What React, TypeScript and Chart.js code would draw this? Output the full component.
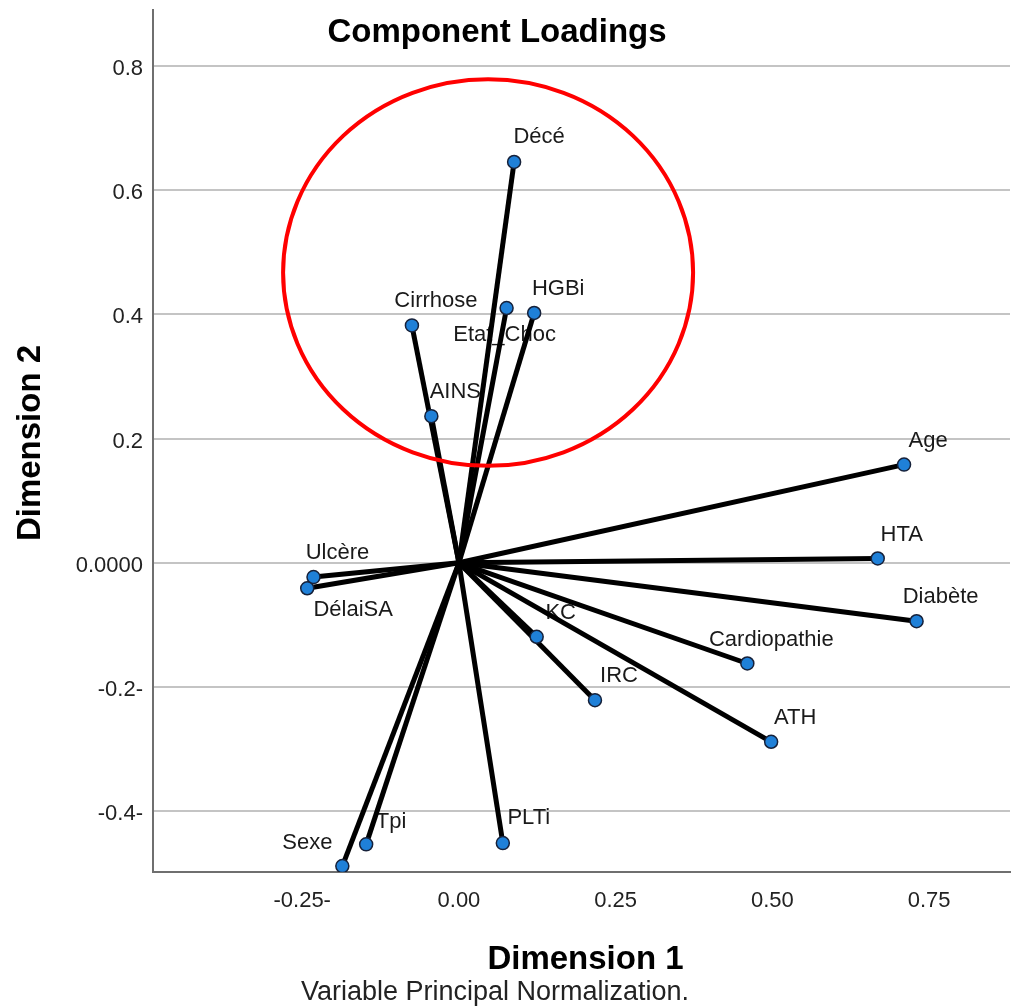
import React, { useEffect, useRef } from "react";
import { Chart, registerables } from "chart.js";

Chart.register(...registerables);

// ---- Data ----
const variables = [
  "Décé", "HGBi", "Etat_Choc", "Cirrhose", "AINS", "Age", "HTA", "Diabète",
  "Cardiopathie", "ATH", "IRC", "KC", "PLTi", "Tpi", "Sexe", "Ulcère", "DélaiSA",
];
const dimension1 = [
  0.088, 0.120, 0.076, -0.075, -0.044, 0.710, 0.668, 0.730,
  0.460, 0.498, 0.217, 0.124, 0.070, -0.148, -0.186, -0.232, -0.242,
];
const dimension2 = [
  0.645, 0.402, 0.410, 0.382, 0.236, 0.158, 0.007, -0.094,
  -0.162, -0.288, -0.221, -0.119, -0.451, -0.453, -0.488, -0.023, -0.041,
];

const xTickValues = [-0.25, 0, 0.25, 0.5, 0.75];
const xTickLabels = ["-0.25-", "0.00", "0.25", "0.50", "0.75"];
const yTickValues = [0.8, 0.6, 0.4, 0.2, 0, -0.2, -0.4];
const yTickLabels = ["0.8", "0.6", "0.4", "0.2", "0.0000", "-0.2-", "-0.4-"];

// highlight ellipse (data units)
const ellipseCenter = { x: 0.0465, y: 0.467 };
const ellipseRadius = { x: 0.327, y: 0.311 };

// label placement (pixel offsets of label centre from the point)
const defaultLabelOffset = { dx: 24, dy: -24 };
const labelOffsets: Record<string, { dx: number; dy: number }> = {
  Etat_Choc: { dx: -2, dy: 27 },
  Sexe: { dx: -35, dy: -23 },
  DélaiSA: { dx: 46, dy: 22 },
  Décé: { dx: 25, dy: -25 },
  PLTi: { dx: 26, dy: -25 },
  Tpi: { dx: 25, dy: -22 },
};

const FONT = '"Liberation Sans", Arial, sans-serif';

const zeroPadding = (s: any) => {
  s.paddingTop = 0;
  s.paddingBottom = 0;
  s.paddingLeft = 0;
  s.paddingRight = 0;
};

export default function App() {
  const canvasRef = useRef<HTMLCanvasElement | null>(null);

  useEffect(() => {
    const canvas = canvasRef.current;
    if (!canvas) return;

    const lineDatasets = variables.map((name, i) => ({
      label: name,
      data: [
        { x: 0, y: 0 },
        { x: dimension1[i], y: dimension2[i] },
      ],
      showLine: true,
      borderColor: "#000000",
      borderWidth: 5,
      pointRadius: 0,
      pointHoverRadius: 0,
      order: 1,
    }));

    const pointsDataset = {
      label: "points",
      data: variables.map((_, i) => ({ x: dimension1[i], y: dimension2[i] })),
      showLine: false,
      pointRadius: 6.5,
      pointHoverRadius: 6.5,
      pointBackgroundColor: "#1f80d8",
      pointBorderColor: "#16213a",
      pointBorderWidth: 1.5,
      order: 0,
    };

    const labelsPlugin = {
      id: "loadingLabels",
      beforeDatasetsDraw(chart: any) {
        const { ctx, scales } = chart;
        ctx.save();
        ctx.font = `22px ${FONT}`;
        ctx.fillStyle = "#1a1a1a";
        ctx.textAlign = "center";
        ctx.textBaseline = "middle";
        variables.forEach((name, i) => {
          const px = scales.x.getPixelForValue(dimension1[i]);
          const py = scales.y.getPixelForValue(dimension2[i]);
          const off = labelOffsets[name] || defaultLabelOffset;
          ctx.fillText(name, px + off.dx, py + off.dy);
        });
        ctx.restore();
      },
      afterDatasetsDraw(chart: any) {
        const { ctx, scales } = chart;
        const cx = scales.x.getPixelForValue(ellipseCenter.x);
        const cy = scales.y.getPixelForValue(ellipseCenter.y);
        const rx = Math.abs(scales.x.getPixelForValue(ellipseCenter.x + ellipseRadius.x) - cx);
        const ry = Math.abs(scales.y.getPixelForValue(ellipseCenter.y + ellipseRadius.y) - cy);
        ctx.save();
        ctx.beginPath();
        ctx.ellipse(cx, cy, rx, ry, 0, 0, Math.PI * 2);
        ctx.strokeStyle = "#ff0000";
        ctx.lineWidth = 4;
        ctx.stroke();
        ctx.restore();
      },
      afterDraw(chart: any) {
        const { ctx, chartArea } = chart;
        ctx.save();
        ctx.fillStyle = "#000000";
        ctx.textBaseline = "middle";
        // title
        ctx.font = `bold 33px ${FONT}`;
        ctx.textAlign = "center";
        ctx.fillText("Component Loadings", 497, 33);
        // x title
        const midX = (chartArea.left + chartArea.right) / 2;
        ctx.fillText("Dimension 1", midX + 4, 960);
        // subtitle
        ctx.font = `27px ${FONT}`;
        ctx.fillStyle = "#222222";
        ctx.fillText("Variable Principal Normalization.", 495, 993);
        // y title
        ctx.fillStyle = "#000000";
        ctx.font = `bold 33px ${FONT}`;
        ctx.translate(31, (chartArea.top + chartArea.bottom) / 2 + 2);
        ctx.rotate(-Math.PI / 2);
        ctx.fillText("Dimension 2", 0, 0);
        ctx.restore();
      },
    };

    const chart = new Chart(canvas, {
      type: "scatter",
      data: { datasets: [pointsDataset as any, ...(lineDatasets as any)] },
      options: {
        responsive: false,
        devicePixelRatio: 1,
        animation: false,
        layout: { autoPadding: false, padding: { top: 10, right: 2, bottom: 0, left: 0 } },
        plugins: {
          legend: { display: false },
          tooltip: { enabled: false },
          title: { display: false },
        },
        scales: {
          x: {
            type: "linear",
            min: -0.488,
            max: 0.879,
            afterBuildTicks: (s: any) => {
              s.ticks = xTickValues.map((v) => ({ value: v }));
            },
            afterFit: (s: any) => {
              s.height = 136;
              zeroPadding(s);
            },
            ticks: {
              autoSkip: false,
              maxRotation: 0,
              padding: 16,
              color: "#222222",
              font: { family: FONT, size: 22 },
              callback: (v: any) => {
                const idx = xTickValues.findIndex((t) => Math.abs(t - Number(v)) < 1e-9);
                return idx >= 0 ? xTickLabels[idx] : "";
              },
            },
            grid: { display: false, drawTicks: false },
            border: { display: true, color: "#6f6f6f", width: 2 },
          },
          y: {
            type: "linear",
            min: -0.4975,
            max: 0.8895,
            afterBuildTicks: (s: any) => {
              s.ticks = yTickValues.map((v) => ({ value: v }));
            },
            afterFit: (s: any) => {
              s.width = 153;
              zeroPadding(s);
            },
            ticks: {
              autoSkip: false,
              padding: 10,
              labelOffset: 3,
              color: "#222222",
              font: { family: FONT, size: 22 },
              callback: (v: any) => {
                const idx = yTickValues.findIndex((t) => Math.abs(t - Number(v)) < 1e-9);
                return idx >= 0 ? yTickLabels[idx] : "";
              },
            },
            grid: { display: true, drawTicks: false, color: "#c4c4c4", lineWidth: 2 },
            border: { display: true, color: "#6f6f6f", width: 2 },
          },
        },
      },
      plugins: [labelsPlugin],
    });

    return () => {
      chart.destroy();
    };
  }, []);

  return (
    <div
      style={{
        position: "absolute",
        left: 0,
        top: 0,
        width: 1012,
        height: 1008,
        background: "#ffffff",
      }}
    >
      <canvas ref={canvasRef} width={1012} height={1008} />
    </div>
  );
}
